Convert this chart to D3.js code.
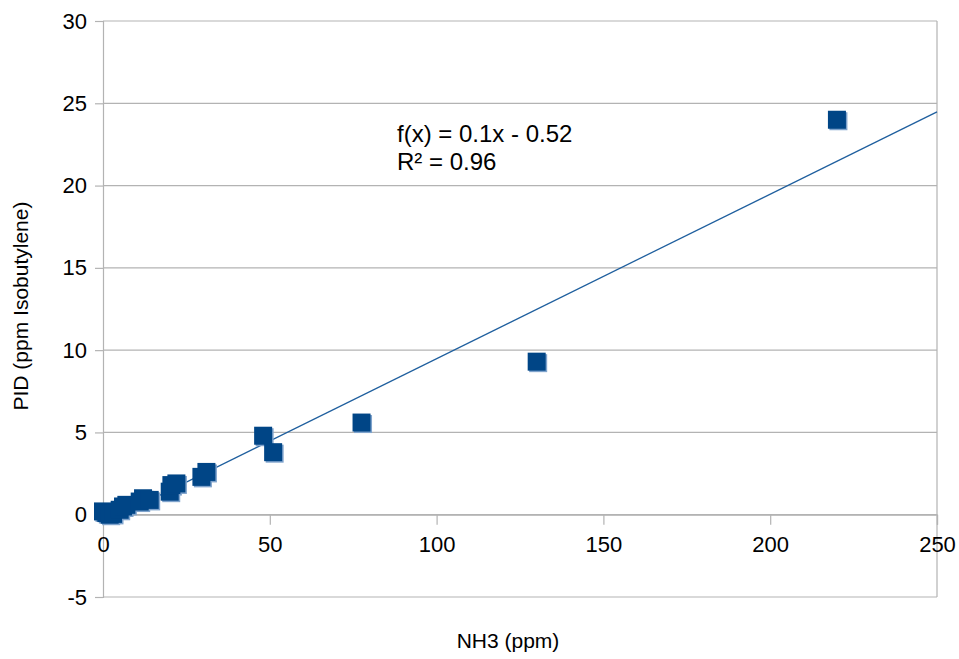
<!DOCTYPE html>
<html><head><meta charset="utf-8">
<script src="https://cdn.jsdelivr.net/npm/d3@7"></script>
<style>body{margin:0;background:#fff;} text{font-family:"Liberation Sans",Arial,sans-serif;fill:#000;}</style>
</head><body>
<svg id="c" width="959" height="659"></svg>
<script>
const nh3 = [0, 1, 2, 3, 5, 6, 7, 11, 12, 14, 20, 20.5, 22, 29.5, 31, 48, 51, 77.5, 130, 220];
const pid = [0.2, 0.1, 0, 0.05, 0.3, 0.5, 0.6, 0.8, 1.0, 0.9, 1.4, 1.8, 1.9, 2.3, 2.6, 4.8, 3.8, 5.6, 9.3, 24];
const xTicks = [0, 50, 100, 150, 200, 250];
const yTicks = [-5, 0, 5, 10, 15, 20, 25, 30];
const slope = 0.1, intercept = -0.52;
const eqLines = ["f(x) = 0.1x - 0.52", "R² = 0.96"];
const xTitle = "NH3 (ppm)", yTitle = "PID (ppm Isobutylene)";

const svg = d3.select("#c");
const L = 103, R = 937, T = 21, B = 597;
const x = d3.scaleLinear().domain([0, 250]).range([L, R]);
const y = d3.scaleLinear().domain([-5, 30]).range([B, T]);
const grid = "#b3b3b3";
const fmt = d => String(d);

svg.append("g").selectAll("line").data(yTicks).join("line")
  .attr("x1", L).attr("x2", R).attr("y1", d => y(d)).attr("y2", d => y(d))
  .attr("stroke", grid).attr("stroke-width", 1.2);
svg.append("line").attr("x1", R).attr("x2", R).attr("y1", T).attr("y2", B).attr("stroke", grid).attr("stroke-width", 1.2);

const yAxis = d3.axisLeft(y).tickValues(yTicks).tickSize(8).tickPadding(8).tickFormat(fmt);
const gy = svg.append("g").attr("transform", `translate(${L},0)`).call(yAxis);
gy.select(".domain").attr("stroke", grid).attr("stroke-width", 1.2);
gy.selectAll(".tick line").attr("stroke", grid).attr("stroke-width", 1.2);
gy.selectAll("text").style("font-size", "22px").attr("font-family", "Liberation Sans, Arial, sans-serif");

const xAxis = d3.axisBottom(x).tickValues(xTicks).tickSize(10).tickPadding(12).tickFormat(fmt);
const gx = svg.append("g").attr("transform", `translate(0,${y(0)})`).call(xAxis);
gx.select(".domain").attr("stroke", grid).attr("stroke-width", 1.2);
gx.selectAll(".tick line").attr("stroke", grid).attr("stroke-width", 1.2);
gx.selectAll("text").style("font-size", "22px").attr("font-family", "Liberation Sans, Arial, sans-serif");

svg.append("line")
  .attr("x1", x(0)).attr("y1", y(intercept))
  .attr("x2", x(250)).attr("y2", y(slope * 250 + intercept))
  .attr("stroke", "#1f5f9e").attr("stroke-width", 1.3);

const pts = nh3.map((v, i) => [v, pid[i]]);
const s = 18;
svg.append("g").selectAll("rect").data(pts).join("rect")
  .attr("x", d => x(d[0]) - s / 2 + 1.5).attr("y", d => y(d[1]) - s / 2 + 1.5)
  .attr("width", s).attr("height", s).attr("fill", "#7fa3cc");
svg.append("g").selectAll("rect").data(pts).join("rect")
  .attr("x", d => x(d[0]) - s / 2).attr("y", d => y(d[1]) - s / 2)
  .attr("width", s).attr("height", s).attr("fill", "#004586");

svg.append("g").selectAll("text").data(eqLines).join("text")
  .attr("x", 397).attr("y", (d, i) => 142 + i * 28)
  .style("font-size", "24px").text(d => d);

svg.append("text").attr("x", 508).attr("y", 648).attr("text-anchor", "middle")
  .style("font-size", "21px").text(xTitle);
svg.append("text").attr("transform", "translate(28,306) rotate(-90)").attr("text-anchor", "middle")
  .style("font-size", "21px").text(yTitle);
</script>
</body></html>
